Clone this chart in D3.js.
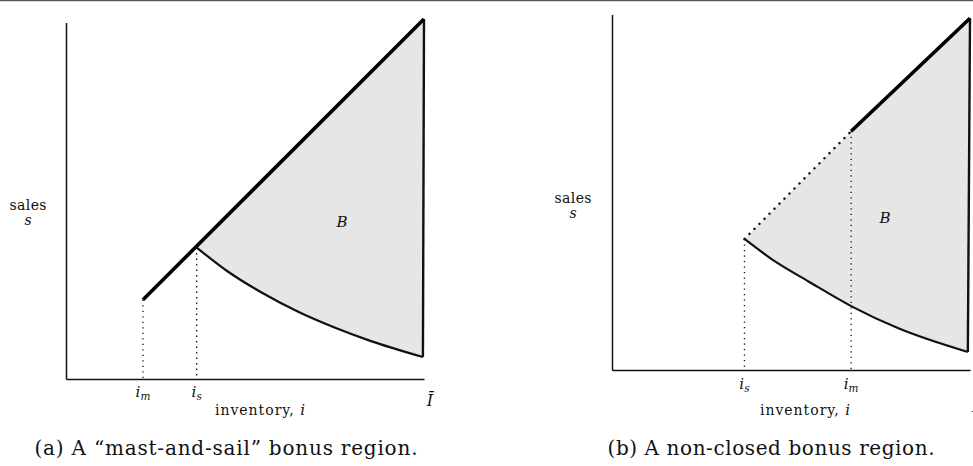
<!DOCTYPE html>
<html>
<head>
<meta charset="utf-8">
<script src="https://cdn.jsdelivr.net/npm/d3@7"></script>
<style>
  html, body { margin: 0; padding: 0; background: #fff; }
  svg { display: block; }
  text { font-family: "DejaVu Serif", "Liberation Serif", serif; fill: #111; }
</style>
</head>
<body>
<svg id="fig" width="973" height="466"></svg>
<script>
// ---- Panel (a): "mast-and-sail" bonus region (inventory i, sales s) ----
const mastA   = [[21.5, 22], [100, 100]];           // upper boundary s = i, from i_m to Ī
const lowerA  = [[36.5, 36.5], [45, 30], [55, 23.8], [65, 18.6], [75, 14.3], [85, 10.6], [99.7, 6.1]];
const edgeA   = [[100, 100], [99.7, 6.1]];          // right edge at Ī
const markA   = [{ sub: "m", i: 21.5, s: 22 }, { sub: "s", i: 36.5, s: 36.5 }];

// ---- Panel (b): non-closed bonus region ----
const dottedB = [[37, 36.5], [66.8, 66.5]];         // excluded part of the upper boundary
const solidB  = [[66.8, 66.5], [100, 98]];
const lowerB  = [[37, 36.5], [45, 30.6], [55, 24.6], [66.8, 17.8], [80, 11.6], [99.4, 5]];
const edgeB   = [[100, 98], [99.4, 5]];
const markB   = [{ sub: "s", i: 37, s: 36.5 }, { sub: "m", i: 66.8, s: 66.5 }];

const captions = ["(a) A \u201cmast-and-sail\u201d bonus region.", "(b) A non-closed bonus region."];

const svg = d3.select("#fig");

// thin rule along the top edge
svg.append("line").attr("x1", 0).attr("x2", 973).attr("y1", 0.5).attr("y2", 0.5)
  .attr("stroke", "#555").attr("stroke-width", 1.5);

// sample the monotone lower curve (in pixels) so the shaded area follows it exactly
function sampleCurve(pts, n) {
  const p = svg.append("path")
    .attr("d", d3.line().curve(d3.curveMonotoneX)(pts)).attr("visibility", "hidden");
  const node = p.node(), L = node.getTotalLength(), out = [];
  for (let k = 0; k <= n; k++) { const q = node.getPointAtLength(L * k / n); out.push([q.x, q.y]); }
  p.remove();
  return out;
}

function panel(o) {
  const x = d3.scaleLinear().domain([0, 100]).range([o.x0, o.x1]);
  const y = d3.scaleLinear().domain([0, 100]).range([o.y0, o.y1]);
  const g = svg.append("g");
  const px = d => [x(d[0]), y(d[1])];
  const line = d3.line();
  const curve = d3.line().curve(d3.curveMonotoneX);

  // shaded region B: upper boundary, down the right edge, back along the lower curve
  const lowerPx = sampleCurve(o.lower.map(px), 80);
  g.append("path")
    .attr("d", line(o.upper.map(px).concat(lowerPx.reverse())) + "Z")
    .attr("fill", "#e6e6e6").attr("stroke", "none");

  // axes (no ticks)
  const xa = x.copy().domain([0, o.xAxisMax]).range([o.x0, x(o.xAxisMax)]);
  const ya = y.copy().domain([0, o.yAxisMax]).range([o.y0, y(o.yAxisMax)]);
  g.append("g").attr("transform", `translate(0,${o.y0})`)
    .call(d3.axisBottom(xa).tickValues([]).tickSizeOuter(0))
    .select(".domain").attr("stroke", "#111").attr("stroke-width", 1.5);
  g.append("g").attr("transform", `translate(${o.x0},0)`)
    .call(d3.axisLeft(ya).tickValues([]).tickSizeOuter(0))
    .select(".domain").attr("stroke", "#111").attr("stroke-width", 1.5);

  // dotted drop lines to the inventory axis
  o.marks.forEach(m => {
    g.append("line")
      .attr("x1", x(m.i)).attr("x2", x(m.i)).attr("y1", y(m.s)).attr("y2", y(0))
      .attr("stroke", "#111").attr("stroke-width", 1.3).attr("stroke-dasharray", "1.3 4.2");
    const t = g.append("text").attr("x", x(m.i)).attr("y", o.markY)
      .attr("text-anchor", "middle").attr("font-size", 15).attr("font-style", "italic");
    t.append("tspan").text("i");
    t.append("tspan").attr("dy", 3).attr("font-size", 10.5).text(m.sub);
  });

  if (o.dotted) {
    g.append("path").attr("d", line(o.dotted.map(px))).attr("fill", "none")
      .attr("stroke", "#111").attr("stroke-width", 2.4).attr("stroke-linecap", "round")
      .attr("stroke-dasharray", "0.1 7");
  }
  g.append("path").attr("d", curve(o.lower.map(px))).attr("fill", "none")
    .attr("stroke", "#111").attr("stroke-width", 2.2);
  g.append("path").attr("d", line(o.edge.map(px))).attr("fill", "none")
    .attr("stroke", "#111").attr("stroke-width", 2.4);
  g.append("path").attr("d", line(o.solid.map(px))).attr("fill", "none")
    .attr("stroke", "#000").attr("stroke-width", 3.6);

  // labels
  g.append("text").attr("x", o.salesX).attr("y", o.salesY).attr("text-anchor", "middle")
    .attr("font-size", 14).attr("textLength", 37).attr("lengthAdjust", "spacing").text("sales");
  g.append("text").attr("x", o.salesX).attr("y", o.salesY + 15).attr("text-anchor", "middle")
    .attr("font-size", 14).attr("font-style", "italic").text("s");
  g.append("text").attr("x", o.bX).attr("y", o.bY).attr("text-anchor", "middle")
    .attr("font-size", 15).attr("font-style", "italic").text("B");
  const inv = g.append("text").attr("x", o.invX).attr("y", 415).attr("text-anchor", "middle")
    .attr("font-size", 14).attr("textLength", 90).attr("lengthAdjust", "spacing");
  inv.append("tspan").text("inventory, ");
  inv.append("tspan").attr("font-style", "italic").attr("font-size", 15).text("i");
  g.append("text").attr("x", o.ibarX).attr("y", o.ibarY).attr("text-anchor", "middle")
    .attr("font-size", 16).attr("font-style", "italic").text("\u012A");
  g.append("text").attr("x", o.capX).attr("y", 455).attr("text-anchor", "middle")
    .attr("font-size", 20).attr("textLength", o.capW).attr("lengthAdjust", "spacing")
    .text(o.caption);
}

panel({
  x0: 66, x1: 424, y0: 379, y1: 19, xAxisMax: 100, yAxisMax: 99,
  upper: [[36.5, 36.5], [100, 100], [99.7, 6.1]], solid: mastA, lower: lowerA, edge: edgeA, marks: markA,
  markY: 397, salesX: 28, salesY: 210, bX: 342, bY: 227, invX: 260,
  ibarX: 430, ibarY: 406, capX: 226, capW: 383, caption: captions[0]
});
panel({
  x0: 612, x1: 970, y0: 370, y1: 11, xAxisMax: 100, yAxisMax: 99,
  upper: [[37, 36.5], [66.8, 66.5], [100, 98], [99.4, 5]], solid: solidB, dotted: dottedB, lower: lowerB,
  edge: edgeB, marks: markB, markY: 389, salesX: 573, salesY: 203, bX: 885, bY: 223, invX: 805,
  ibarX: 975, ibarY: 412, capX: 771, capW: 327, caption: captions[1]
});
</script>
</body>
</html>
